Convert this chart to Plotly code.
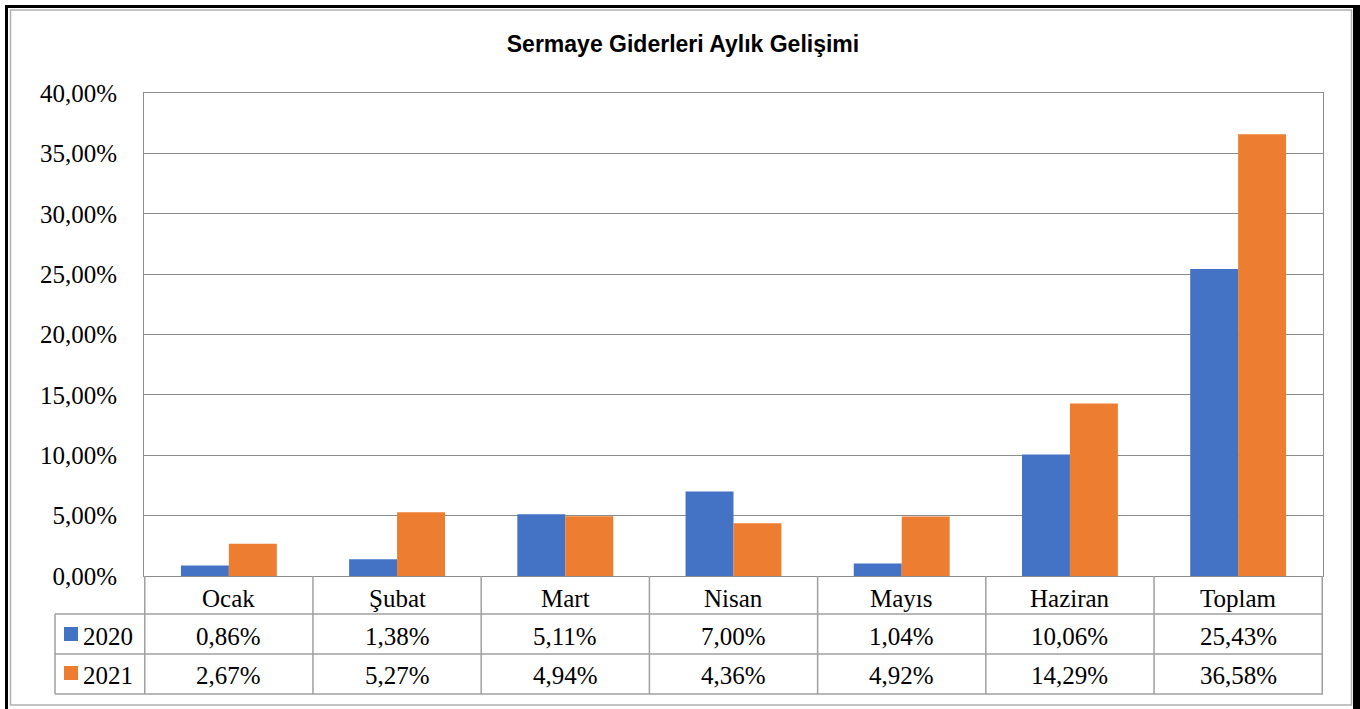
import plotly.graph_objects as go

categories = ['Ocak', 'Şubat', 'Mart', 'Nisan', 'Mayıs', 'Haziran', 'Toplam']
values_2020 = [0.86, 1.38, 5.11, 7.00, 1.04, 10.06, 25.43]
values_2021 = [2.67, 5.27, 4.94, 4.36, 4.92, 14.29, 36.58]
series_names = ['2020', '2021']
colors = ['#4472C4', '#ED7D31']
title = 'Sermaye Giderleri Aylık Gelişimi'

W, H = 1360, 709
L, R, T, B = 144, 37, 93, 133
PW, PH = W - L - R, H - T - B
GRID = '#8C8C8C'
TABLE = '#A0A0A0'
SERIF = 'Liberation Serif, Times New Roman, serif'
FS = 25


def px(x):
    return (x - L) / PW


def py(y):
    return (H - B - y) / PH


def fmt(v):
    return f'{v:.2f}%'.replace('.', ',')


fig = go.Figure()
for name, vals, col in zip(series_names, (values_2020, values_2021), colors):
    fig.add_bar(x=categories, y=vals, name=name, marker=dict(color=col, line=dict(width=0)))

shapes = []
# outer frame
shapes.append(dict(type='rect', xref='paper', yref='paper', x0=px(5), x1=px(8), y0=py(5), y1=py(712),
                   fillcolor='black', line=dict(width=0)))
shapes.append(dict(type='rect', xref='paper', yref='paper', x0=px(5), x1=px(1360), y0=py(5), y1=py(8),
                   fillcolor='black', line=dict(width=0)))
shapes.append(dict(type='rect', xref='paper', yref='paper', x0=px(1353), x1=px(1362), y0=py(5), y1=py(712),
                   fillcolor='black', line=dict(width=0)))
shapes.append(dict(type='rect', xref='paper', yref='paper', x0=px(10.5), x1=px(1351.5), y0=py(10), y1=py(705),
                   line=dict(color='#B0B0B0', width=1.5)))

# data table grid
n = len(categories)
for yy in (614, 654, 694):
    shapes.append(dict(type='line', xref='paper', yref='paper', x0=px(55), x1=1, y0=py(yy), y1=py(yy),
                       line=dict(color=TABLE, width=1.5)))
shapes.append(dict(type='line', xref='paper', yref='paper', x0=px(55), x1=px(55), y0=py(614), y1=py(694),
                   line=dict(color=TABLE, width=1.5)))
for i in range(n + 1):
    shapes.append(dict(type='line', xref='x', yref='paper', x0=i - 0.5, x1=i - 0.5, y0=0, y1=py(694),
                       line=dict(color=TABLE, width=1.5)))

annotations = []
# header row (category names)
for c in categories:
    annotations.append(dict(xref='x', yref='paper', x=c, y=py(598), text=c, showarrow=False,
                            xanchor='center', yanchor='middle', font=dict(family=SERIF, size=FS, color='black')))

# legend keys
for k, (name, col) in enumerate(zip(series_names, colors)):
    top = 627 + k * 39
    shapes.append(dict(type='rect', xref='paper', yref='paper', x0=px(64), x1=px(78), y0=py(top), y1=py(top + 14),
                       fillcolor=col, line=dict(width=0)))
    annotations.append(dict(xref='paper', yref='paper', x=px(81), y=py(636.5 + k * 39), text=name, showarrow=False,
                            xanchor='left', yanchor='middle', font=dict(family=SERIF, size=FS, color='black')))

# value rows
for k, vals in enumerate((values_2020, values_2021)):
    yc = 636.5 + k * 39
    for c, v in zip(categories, vals):
        annotations.append(dict(xref='x', yref='paper', x=c, y=py(yc), text=fmt(v), showarrow=False,
                                xanchor='center', yanchor='middle', font=dict(family=SERIF, size=FS, color='black')))

fig.update_layout(
    width=W,
    height=H,
    margin=dict(l=L, r=R, t=T, b=B, pad=0),
    paper_bgcolor='white',
    plot_bgcolor='white',
    separators=', ',
    showlegend=False,
    bargap=0.43,
    bargroupgap=0,
    barmode='group',
    title=dict(text=f'<b>{title}</b>', x=683 / W, xref='container', xanchor='center',
               y=1 - 44 / H, yref='container', yanchor='middle',
               font=dict(family='Liberation Sans, Arial, sans-serif', size=23, color='black')),
    xaxis=dict(
        showgrid=False,
        showline=True,
        linecolor=GRID,
        linewidth=1,
        mirror=True,
        ticks='',
        showticklabels=False,
    ),
    yaxis=dict(
        range=[0, 40],
        dtick=5,
        tickformat='.2f',
        ticksuffix='%',
        showgrid=True,
        gridcolor=GRID,
        gridwidth=1,
        showline=True,
        linecolor=GRID,
        linewidth=1,
        mirror=True,
        zeroline=False,
        ticks='',
        tickfont=dict(family=SERIF, size=FS, color='black'),
        ticklabelstandoff=21,
    ),
    shapes=shapes,
    annotations=annotations,
)

fig.write_html('out.html', config={'displayModeBar': False},
               post_script="document.body.style.margin = '0';")
